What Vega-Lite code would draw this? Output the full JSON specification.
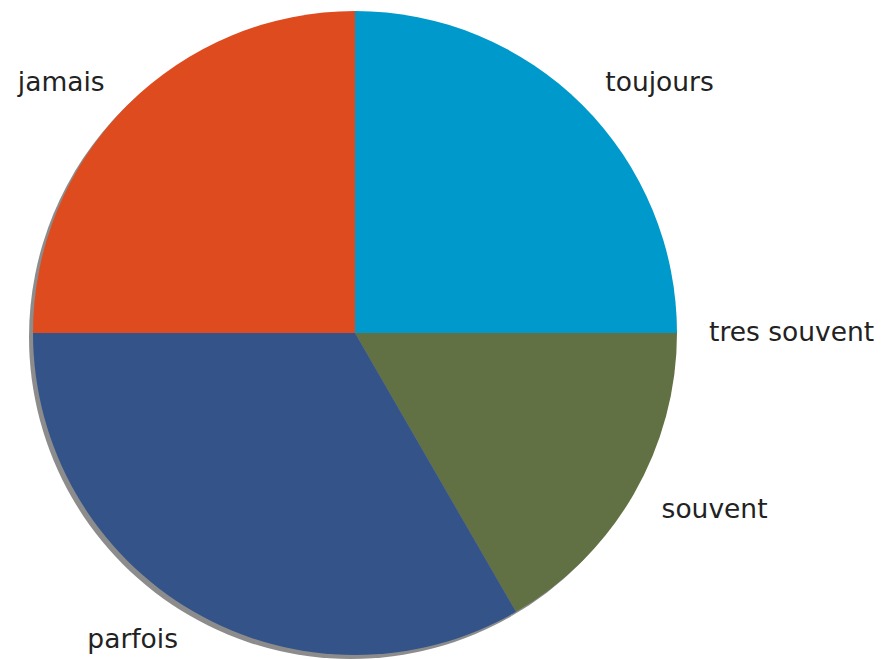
{
  "$schema": "https://vega.github.io/schema/vega-lite/v6.json",
  "width": 644,
  "height": 644,
  "autosize": {"type": "none"},
  "padding": {"left": 33, "top": 11, "right": 210, "bottom": 4},
  "background": "white",
  "view": {"stroke": null},
  "data": {
    "values": [
      {"label": "toujours", "value": 3, "order": 1},
      {"label": "tres souvent", "value": 0, "order": 2},
      {"label": "souvent", "value": 2, "order": 3},
      {"label": "parfois", "value": 4, "order": 4},
      {"label": "jamais", "value": 3, "order": 5}
    ]
  },
  "encoding": {
    "theta": {"field": "value", "type": "quantitative", "stack": true},
    "order": {"field": "order", "type": "quantitative"}
  },
  "layer": [
    {
      "mark": {"type": "arc", "radius": 322, "color": "#8c8c8c", "xOffset": -4, "yOffset": 4}
    },
    {
      "mark": {"type": "arc", "radius": 322},
      "encoding": {
        "color": {
          "field": "label",
          "type": "nominal",
          "scale": {
            "domain": ["toujours", "jamais", "parfois", "souvent", "tres souvent"],
            "range": ["#0099cc", "#de4b1f", "#345389", "#627143", "#d5d5d5"]
          },
          "legend": null
        }
      }
    },
    {
      "mark": {"type": "text", "radius": 354, "align": "left", "baseline": "middle", "font": "DejaVu Sans", "fontSize": 26.5, "color": "#222222"},
      "encoding": {
        "text": {"condition": {"test": "datum.label != 'jamais' && datum.label != 'parfois'", "field": "label"}, "value": ""}
      }
    },
    {
      "mark": {"type": "text", "radius": 354, "align": "right", "baseline": "middle", "font": "DejaVu Sans", "fontSize": 26.5, "color": "#222222"},
      "encoding": {
        "text": {"condition": {"test": "datum.label == 'jamais' || datum.label == 'parfois'", "field": "label"}, "value": ""}
      }
    }
  ]
}
